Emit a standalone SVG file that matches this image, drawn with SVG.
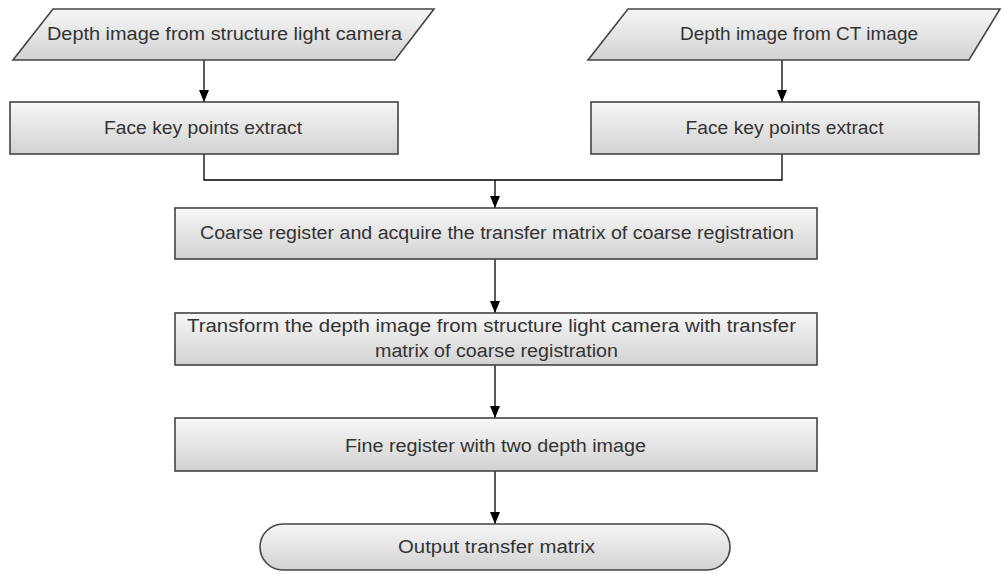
<svg xmlns="http://www.w3.org/2000/svg" width="1002" height="578" viewBox="0 0 1002 578">
  <defs>
    <linearGradient id="g" x1="0" y1="0" x2="0" y2="1">
      <stop offset="0" stop-color="#f7f7f7"/>
      <stop offset="1" stop-color="#d2d2d2"/>
    </linearGradient>
    <marker id="arr" viewBox="0 0 12 10" refX="12" refY="5" markerWidth="12" markerHeight="10" markerUnits="userSpaceOnUse" orient="auto">
      <path d="M0,0 L12,5 L0,10 Z" fill="#000"/>
    </marker>
  </defs>
  <style>
    .shape { fill: url(#g); stroke: #444; stroke-width: 1.6; }
    .label { font-family: "Liberation Sans", Arial, sans-serif; font-size: 18px; fill: #333; text-anchor: middle; }
    .edge { fill: none; stroke: #000; stroke-width: 1.3; }
    .arrow { marker-end: url(#arr); }
  </style>
  <rect width="1002" height="578" fill="#fff"/>

  <g id="connectors">
    <line class="edge arrow" x1="204" y1="60" x2="204" y2="102"/>
    <line class="edge arrow" x1="782" y1="60" x2="782" y2="102"/>
    <polyline class="edge" points="204,154 204,180 782,180 782,154"/>
    <line class="edge arrow" x1="495" y1="180" x2="495" y2="208"/>
    <line class="edge arrow" x1="495" y1="259" x2="495" y2="313"/>
    <line class="edge arrow" x1="495" y1="365" x2="495" y2="418"/>
    <line class="edge arrow" x1="495" y1="471" x2="495" y2="524"/>
  </g>

  <g id="input-camera">
    <polygon class="shape" points="53,9 434,9 395,60 13,60"/>
    <text class="label" x="224.5" y="40" textLength="355" lengthAdjust="spacingAndGlyphs">Depth image from structure light camera</text>
  </g>

  <g id="input-ct">
    <polygon class="shape" points="628,9 1000,9 969,60 588,60"/>
    <text class="label" x="799" y="40" textLength="238" lengthAdjust="spacingAndGlyphs">Depth image from CT image</text>
  </g>

  <g id="keypoints-left">
    <rect class="shape" x="10" y="102" width="388" height="52"/>
    <text class="label" x="203" y="134" textLength="198" lengthAdjust="spacingAndGlyphs">Face key points extract</text>
  </g>

  <g id="keypoints-right">
    <rect class="shape" x="591" y="102" width="388" height="52"/>
    <text class="label" x="784.5" y="134" textLength="198" lengthAdjust="spacingAndGlyphs">Face key points extract</text>
  </g>

  <g id="coarse-register">
    <rect class="shape" x="175" y="208" width="642" height="51"/>
    <text class="label" x="497" y="239" textLength="594" lengthAdjust="spacingAndGlyphs">Coarse register and acquire the transfer matrix of coarse registration</text>
  </g>

  <g id="transform">
    <rect class="shape" x="175" y="313" width="642" height="52"/>
    <text class="label" x="491.5" y="332" textLength="609" lengthAdjust="spacingAndGlyphs">Transform the depth image from structure light camera with transfer</text>
    <text class="label" x="496.5" y="357" textLength="243" lengthAdjust="spacingAndGlyphs">matrix of coarse registration</text>
  </g>

  <g id="fine-register">
    <rect class="shape" x="175" y="418" width="642" height="53"/>
    <text class="label" x="495.5" y="452" textLength="301" lengthAdjust="spacingAndGlyphs">Fine register with two depth image</text>
  </g>

  <g id="output">
    <rect class="shape" x="260" y="524" width="470" height="46" rx="23" ry="23"/>
    <text class="label" x="496.5" y="553" textLength="197" lengthAdjust="spacingAndGlyphs">Output transfer matrix</text>
  </g>
</svg>
